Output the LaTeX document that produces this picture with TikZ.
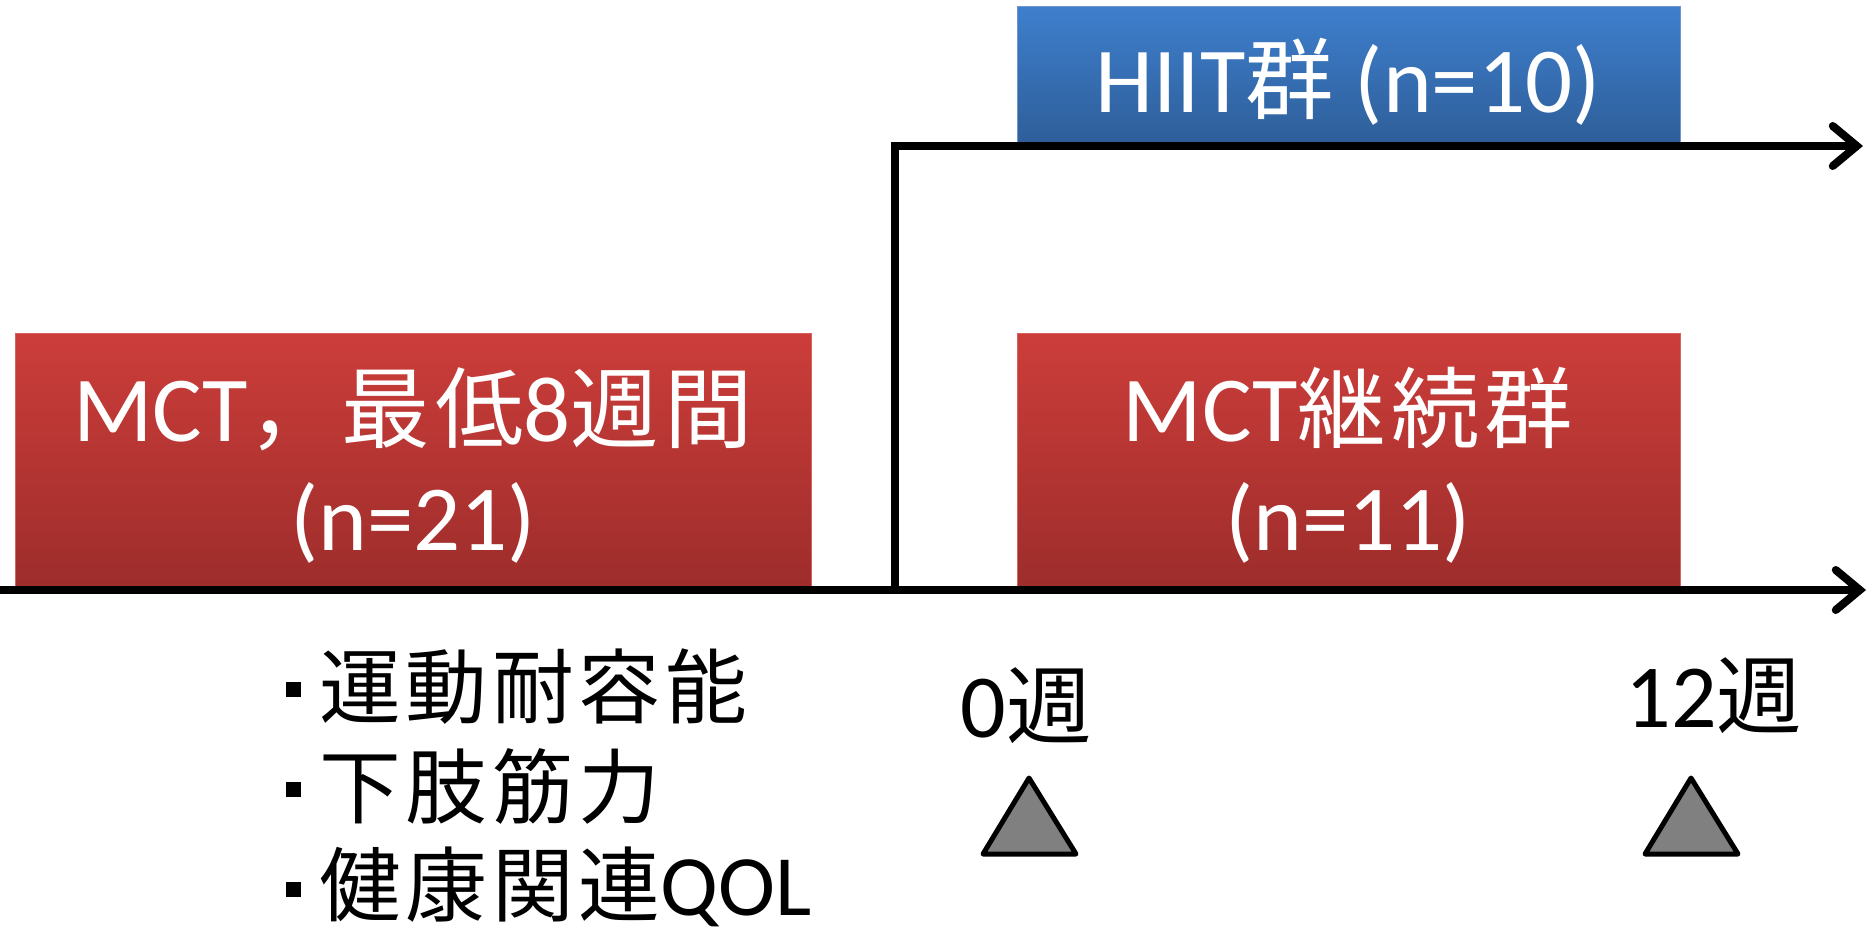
\documentclass[tikz,border=0pt]{standalone}
\usepackage{fontspec}
\setmainfont{Carlito}
\newfontfamily\cjkfont[Scale=0.95,LetterSpace=6]{Noto Sans CJK JP}
\newcommand\cj[1]{{\cjkfont #1}}
\usetikzlibrary{arrows.meta,shadows}
\definecolor{redtop}{RGB}{204,61,58}
\definecolor{redbot}{RGB}{157,45,43}
\definecolor{redline}{RGB}{214,98,95}
\definecolor{bluetop}{RGB}{62,127,205}
\definecolor{bluebot}{RGB}{46,94,153}
\definecolor{blueline}{RGB}{110,150,205}
\definecolor{trigray}{RGB}{128,128,128}
\tikzset{
  redbox/.style={rectangle, anchor=north west, inner sep=0pt, top color=redtop, bottom color=redbot, draw=redline, line width=1.2pt,
    drop shadow={opacity=0.12, shadow xshift=0pt, shadow yshift=-3pt}},
  bluebox/.style={rectangle, anchor=north west, inner sep=0pt, top color=bluetop, bottom color=bluebot, draw=blueline, line width=1.2pt,
    drop shadow={opacity=0.12, shadow xshift=0pt, shadow yshift=-3pt}},
  boxtxt/.style={anchor=base, inner sep=0pt, text=white, font=\fontsize{93}{110}\selectfont},
  listtxt/.style={anchor=base west, inner sep=0pt, text=black, font=\fontsize{86}{100}\selectfont},
  weektxt/.style={anchor=base, inner sep=0pt, text=black, font=\fontsize{90}{100}\selectfont},
  bulletsq/.style={rectangle, fill=black, inner sep=0pt, minimum size=15pt},
  axis/.style={line width=8pt, black, -{Straight Barb[length=24pt,width=40pt,line cap=round]}},
  marker/.style={fill=trigray, draw=black, line width=5pt, line join=round},
}
\begin{document}
\begin{tikzpicture}[x=1pt,y=-1pt]
\useasboundingbox (0,0) rectangle (1868,931);
% boxes
\node[redbox, minimum width=796pt, minimum height=254pt] (mctbox) at (15,333) {};
\node[redbox, minimum width=663pt, minimum height=254pt] (contbox) at (1017,333) {};
\node[bluebox, minimum width=663pt, minimum height=137pt] (hiitbox) at (1017,6) {};
% box texts
\node[boxtxt] (mctA) at (413,441) {MCT\cj{，最低}8\cj{週間}};
\node[boxtxt] (mctB) at (413,550) {(n=21)};
\node[boxtxt] (contA) at (1348,441) {MCT\cj{継続群}};
\node[boxtxt] (contB) at (1348,550) {(n=11)};
\node[boxtxt] (hiitT) at (1348,113) {HIIT\cj{群} (n=10)};
% axes
\coordinate (axstart) at (0,590);
\coordinate (axend) at (1866,590);
\coordinate (branch) at (895,590);
\coordinate (corner) at (895,146);
\coordinate (brend) at (1863,146);
\draw[axis] (axstart) -- (axend);
\draw[axis, line join=miter] (branch) -- (corner) -- (brend);
% list
\node[bulletsq] (b1) at (293,689) {};
\node[bulletsq] (b2) at (293,789) {};
\node[bulletsq] (b3) at (293,889) {};
\node[listtxt] (m1) at (319,717) {\cj{運動耐容能}};
\node[listtxt] (m2) at (319,817) {\cj{下肢筋力}};
\node[listtxt] (m3) at (319,915) {\cj{健康関連}QOL};
% weeks
\node[weektxt] (w0) at (1026,737) {0\cj{週}};
\node[weektxt] (w12) at (1714,727) {12\cj{週}};
\draw[marker] (1029,778) -- (1076,854) -- (983,854) -- cycle;
\draw[marker] (1691,778) -- (1738,854) -- (1645,854) -- cycle;
\end{tikzpicture}
\end{document}
